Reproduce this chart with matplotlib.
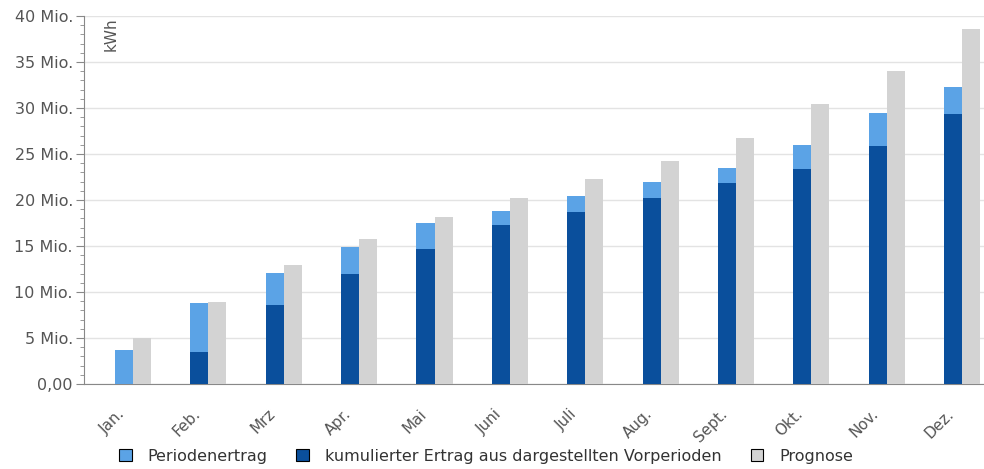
import matplotlib
matplotlib.use("Agg")
import matplotlib.pyplot as plt
import matplotlib.transforms as mtransforms
import numpy as np
from matplotlib.ticker import MultipleLocator, FuncFormatter
from matplotlib.patches import Patch

months = ["Jan.", "Feb.", "Mrz", "Apr.", "Mai", "Juni", "Juli", "Aug.", "Sept.", "Okt.", "Nov.", "Dez."]
# values in Mio. kWh
kumuliert = [0.0, 3.5, 8.6, 12.0, 14.7, 17.3, 18.7, 20.25, 21.8, 23.4, 25.9, 29.3]
perioden = [3.7, 5.3, 3.5, 2.9, 2.8, 1.5, 1.7, 1.75, 1.7, 2.6, 3.6, 2.95]
prognose = [5.0, 8.9, 12.9, 15.8, 18.1, 20.25, 22.3, 24.2, 26.7, 30.4, 34.0, 38.55]

c_light = "#5ba3e6"
c_dark = "#0a4f9c"
c_grey = "#d3d3d3"
txt = "#555555"

fig = plt.figure(figsize=(9.84, 4.69), dpi=100)
ax = fig.add_axes([84/984, 1-384/469, 1-84/984, (384-16)/469])

x = np.arange(len(months))
w = 0.24
scale = 1e6
ax.bar(x - w/2, np.array(kumuliert)*scale, width=w, color=c_dark, zorder=3)
ax.bar(x - w/2, np.array(perioden)*scale, width=w, bottom=np.array(kumuliert)*scale, color=c_light, zorder=3)
ax.bar(x + w/2, np.array(prognose)*scale, width=w, color=c_grey, zorder=3)

ax.set_ylim(0, 40e6)
ax.set_xlim(-0.65, 11.29)
ax.yaxis.set_major_locator(MultipleLocator(5e6))
ax.yaxis.set_minor_locator(MultipleLocator(1e6))
def fmt(v, p):
    if v == 0:
        return "0,00"
    return f"{int(round(v/1e6))} Mio."
ax.yaxis.set_major_formatter(FuncFormatter(fmt))
ax.grid(axis="y", which="major", color="#e3e3e3", linewidth=1, zorder=0)
for s in ["top", "right"]:
    ax.spines[s].set_visible(False)
ax.spines["left"].set_color("#888888")
ax.spines["bottom"].set_color("#888888")
ax.tick_params(axis="y", which="major", length=6, color="#888888", labelsize=11.5, labelcolor=txt, pad=2)
ax.tick_params(axis="y", which="minor", length=3, color="#888888")
ax.set_xticks(x)
ax.set_xticklabels(months, rotation=45, ha="right", rotation_mode="anchor", fontsize=11, color=txt)
ax.tick_params(axis="x", length=0, pad=16)
offset = mtransforms.ScaledTranslation(-16/100, 0, fig.dpi_scale_trans)
for lab in ax.get_xticklabels():
    lab.set_transform(lab.get_transform() + offset)

ax.text(0.022, 0.995, "kWh", transform=ax.transAxes, rotation=90, ha="left", va="top", fontsize=11, color=txt)

handles = [Patch(facecolor=c_light, edgecolor="black", linewidth=0.8),
           Patch(facecolor=c_dark, edgecolor="black", linewidth=0.8),
           Patch(facecolor=c_grey, edgecolor="black", linewidth=0.8)]
labels = ["Periodenertrag", "kumulierter Ertrag aus dargestellten Vorperioden", "Prognose"]
fig.legend(handles, labels, loc="center", bbox_to_anchor=(486/984, 1-456/469), ncol=3, frameon=False,
           fontsize=11.5, handlelength=0.8, handleheight=0.8, columnspacing=1.8, handletextpad=1.0,
           labelcolor="#333333")

fig.savefig("out.png", dpi=100)
